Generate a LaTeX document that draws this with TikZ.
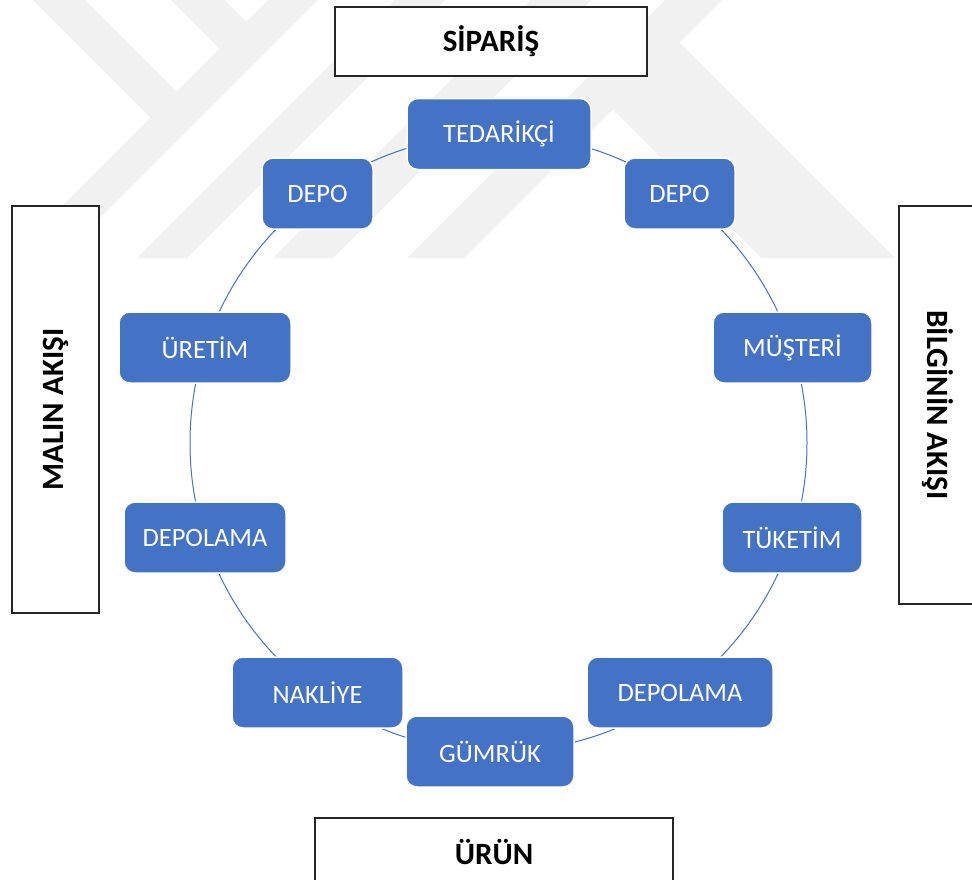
\documentclass[tikz,border=0pt]{standalone}
\usepackage{fontspec}
\setmainfont{Carlito}
\definecolor{nodeblue}{HTML}{4472C4}
\definecolor{wmgray}{HTML}{F1F1F1}
\begin{document}
\begin{tikzpicture}[x=1pt,y=-1pt,
  stage/.style={draw=white, line width=1.5pt, fill=nodeblue, rounded corners=11pt,
    text=white, font=\fontsize{26.5}{31}\selectfont, minimum height=71pt, inner sep=0pt},
  flowbox/.style={draw=black!85, line width=1.4pt, fill=white,
    font=\fontsize{31}{36}\selectfont\bfseries, inner sep=0pt},
  ring/.style={draw=nodeblue, line width=1pt},
  band/.style={fill=wmgray}]
\useasboundingbox (0,0) rectangle (972,879);
\clip (0,0) rectangle (972,879);

% faint background emblem made of diagonal bands
\begin{scope}
  \clip (0,0) rectangle (972,258);
  \fill[band] (268,0) -- (318,0) -- (60,258) -- (10,258) -- cycle;
  \fill[band] (395,0) -- (445,0) -- (187,258) -- (137,258) -- cycle;
  \fill[band] (531,0) -- (591,0) -- (333,258) -- (273,258) -- cycle;
  \fill[band] (665,0) -- (722,0) -- (464,258) -- (407,258) -- cycle;
  \fill[band] (33,0) -- (85,0) -- (176.5,91.5) -- (150.5,117.5) -- cycle;
  \fill[band] (171,0) -- (225,0) -- (246.5,21.5) -- (219.5,48.5) -- cycle;
  \fill[band] (611.5,108.5) -- (678.5,41.5) -- (895,258) -- (761,258) -- cycle;
\end{scope}

% ring joining the stages
\coordinate (hub) at (498.5,443);
\draw[ring] (hub) circle[radius=308.5];

% flow labels
\node[flowbox, minimum width=312pt, minimum height=69pt] (siparis) at (491,41.5) {SİPARİŞ};
\node[flowbox, minimum width=358pt, minimum height=67pt] (urun) at (494,851.5) {ÜRÜN};
\node[flowbox, minimum width=407pt, minimum height=87pt, rotate=90] (malin) at (55.5,409.5) {MALIN AKIŞI};
\node[flowbox, minimum width=398pt, minimum height=78pt, rotate=-90] (bilgi) at (938,405) {BİLGİNİN AKIŞI};

% stages
\node[stage, minimum width=184pt] (tedarikci) at (499,134) {TEDARİKÇİ};
\node[stage, minimum width=111pt] (depoR) at (679.5,193.5) {DEPO};
\node[stage, minimum width=159pt] (musteri) at (792.5,347.5) {MÜŞTERİ};
\node[stage, minimum width=140pt] (tuketim) at (792,537.5) {TÜKETİM};
\node[stage, minimum width=186pt] (depolamaR) at (680,692.5) {DEPOLAMA};
\node[stage, minimum width=168pt] (gumruk) at (490,751.5) {GÜMRÜK};
\node[stage, minimum width=171pt] (nakliye) at (317.5,692.5) {NAKLİYE};
\node[stage, minimum width=162pt] (depolamaL) at (205,537.5) {DEPOLAMA};
\node[stage, minimum width=172pt] (uretim) at (205,347.5) {ÜRETİM};
\node[stage, minimum width=111pt] (depoL) at (317.5,193.5) {DEPO};
\end{tikzpicture}
\end{document}
